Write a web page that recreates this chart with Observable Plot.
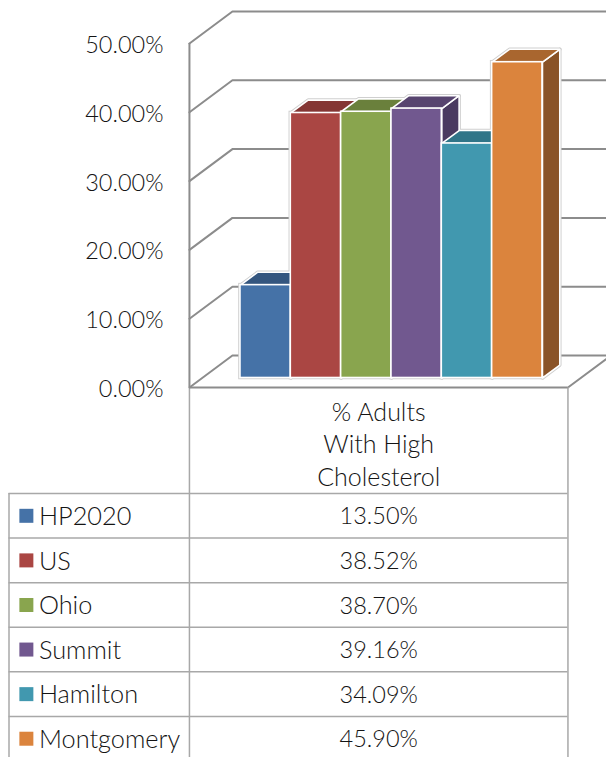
<!DOCTYPE html>
<html>
<head>
<meta charset="utf-8">
<style>
html,body{margin:0;padding:0;background:#fff;overflow:hidden}
svg{display:block;overflow:hidden}
</style>
<script src="https://cdn.jsdelivr.net/npm/d3@7"></script>
<script src="https://cdn.jsdelivr.net/npm/@observablehq/plot@0.6"></script>
</head>
<body>
<div id="chart"></div>
<script>
// ---- data
const categories = ["HP2020", "US", "Ohio", "Summit", "Hamilton", "Montgomery"];
const values = [13.5, 38.52, 38.7, 39.16, 34.09, 45.9];
const yTicks = [0, 10, 20, 30, 40, 50];
const headerLabel = "% Adults\nWith High\nCholesterol";
const frontColors = ["#4572a7", "#aa4643", "#89a54e", "#71588f", "#4198af", "#db843d"];
const topColors = ["#34567f", "#843634", "#6a803c", "#57446f", "#307588", "#a9662f"];
const sideColors = ["#2c486a", "#6e2c2b", "#586a32", "#4a3a60", "#285f70", "#8a5327"];

// ---- oblique projection expressed in data units (slots, percent)
const depthX = 0.854, depthY = 4.65;
const barNear = 0.297, barFar = 0.70;
const wallLeft = -0.76, wallRight = 6.76, wallRearRight = wallRight + depthX;
const px = (slot, d) => slot + d * depthX;
const py = (v, d) => v + d * depthY;

const wallRows = yTicks.flatMap(v => [
  {x: px(wallLeft, 0), y: py(v, 0), id: "w" + v},
  {x: px(wallLeft, 1), y: py(v, 1), id: "w" + v},
  {x: wallRearRight, y: py(v, 1), id: "w" + v}
]);
const floorRows = [
  {x: wallRight, y: 0, id: "f"},
  {x: wallRearRight, y: py(0, 1), id: "f"}
];

function poly(id, fill, pts) {
  return [...pts, pts[0]].map(([x, y]) => ({x, y, id, fill}));
}
const faceRows = categories.flatMap((c, i) => {
  const v = values[i];
  const side = poly("s" + i, sideColors[i], [
    [px(i + 1, barNear), py(0, barNear)], [px(i + 1, barFar), py(0, barFar)],
    [px(i + 1, barFar), py(v, barFar)], [px(i + 1, barNear), py(v, barNear)]
  ]);
  const top = poly("t" + i, topColors[i], [
    [px(i, barNear), py(v, barNear)], [px(i + 1, barNear), py(v, barNear)],
    [px(i + 1, barFar), py(v, barFar)], [px(i, barFar), py(v, barFar)]
  ]);
  return [...side, ...top];
});
const fronts = categories.map((c, i) => ({
  x1: px(i, barNear), x2: px(i + 1, barNear),
  y1: py(0, barNear), y2: py(values[i], barNear), fill: frontColors[i]
}));

// ---- data table, in the same units
const tableLeft = -4.345, tableTop = -15.41, rowStep = -6.48, tableEnd = -53.9;
const swatchX = -4.0, labelX = -3.75, valueX = 3, headerY = -8.05;
const rowY = i => tableTop + (i + 0.5) * rowStep;
const rowLines = d3.range(0, 6).map(i => tableTop + i * rowStep);
const tableRows = categories.map((c, i) => ({name: c, value: values[i], color: frontColors[i], y: rowY(i)}));
const font = "Lato, 'Open Sans', sans-serif";
const ink = "#141414", lineGray = "#8c8c8c", tableGray = "#a8a8a8";

const chart = Plot.plot({
  width: 606, height: 757,
  marginLeft: 189, marginRight: 0, marginTop: 0, marginBottom: 0,
  x: {type: "linear", domain: [0, 6], range: [227.2, 529.2], axis: null},
  y: {type: "linear", domain: [0, 50], range: [387, 43], axis: null},
  style: {fontFamily: font, background: "#fff"},
  marks: [
    Plot.ruleX([wallLeft], {y1: 0, y2: 50, stroke: lineGray, strokeWidth: 2}),
    Plot.line(wallRows, {x: "x", y: "y", z: "id", stroke: lineGray, strokeWidth: 2, strokeLinejoin: "miter"}),
    Plot.line(floorRows, {x: "x", y: "y", z: "id", stroke: lineGray, strokeWidth: 2}),
    // soft outline behind the columns
    Plot.line(faceRows, {x: "x", y: "y", z: "id", stroke: "#cfcfcf", strokeWidth: 3.5}),
    Plot.rect(fronts, {x1: "x1", x2: "x2", y1: "y1", y2: "y2", stroke: "#cfcfcf", strokeWidth: 3.5}),
    // columns
    Plot.line(faceRows, {x: "x", y: "y", z: "id", fill: "fill", stroke: "#fff", strokeWidth: 1.6, strokeLinejoin: "miter"}),
    Plot.rect(fronts, {x1: "x1", x2: "x2", y1: "y1", y2: "y2", fill: "fill", stroke: "#fff", strokeWidth: 1.6}),
    // table grid
    Plot.ruleX([wallLeft, wallRight], {y1: 0, y2: tableEnd, stroke: tableGray, strokeWidth: 1.5}),
    Plot.ruleX([tableLeft], {y1: tableTop, y2: tableEnd, stroke: tableGray, strokeWidth: 1.5}),
    Plot.ruleY(rowLines, {x1: tableLeft, x2: wallRight, stroke: tableGray, strokeWidth: 1.5}),
    Plot.ruleY([0], {x1: wallLeft, x2: wallRight, stroke: lineGray, strokeWidth: 2}),
    // y axis
    Plot.axisY({
      anchor: "left", ticks: yTicks, tickSize: 0, tickPadding: 26, label: null, dy: 2,
      tickFormat: d => d3.format(".2f")(d) + "%", fontSize: 23.5, fill: ink, fontWeight: 300
    }),
    // table text
    Plot.text([headerLabel], {x: valueX, y: headerY, text: d => d, fontSize: 25, lineHeight: 1.3, fill: ink, fontWeight: 300}),
    Plot.dot(tableRows, {x: swatchX, y: "y", symbol: "square", r: 7.9, fill: "color"}),
    Plot.text(tableRows, {x: labelX, y: "y", dy: 1, text: "name", textAnchor: "start", fontSize: 25.3, fill: ink, fontWeight: 300}),
    Plot.text(tableRows, {x: valueX, y: "y", dy: 1, text: d => d3.format(".2f")(d.value) + "%", fontSize: 23.5, fill: ink, fontWeight: 300})
  ]
});
document.getElementById("chart").append(chart);
</script>
</body>
</html>
